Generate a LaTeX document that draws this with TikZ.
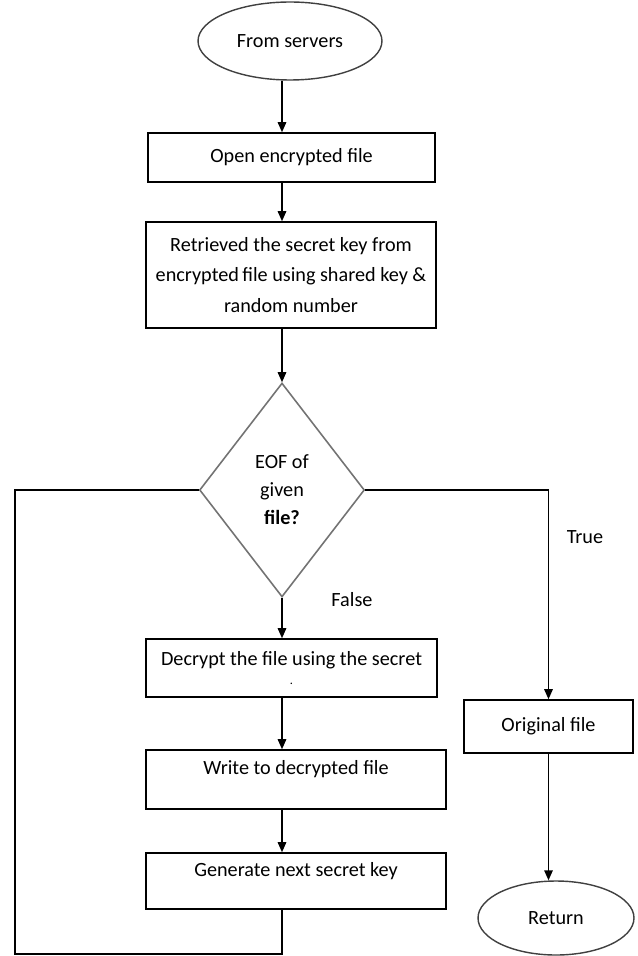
\documentclass[tikz,border=0pt]{standalone}
\usepackage{fontspec}
\setmainfont{Carlito}
\usepackage{tikz}
\usetikzlibrary{shapes.geometric, arrows.meta, positioning, calc}

\begin{document}
\begin{tikzpicture}[
    x=0.02cm, y=-0.02cm,
    box/.style={rectangle, draw, line width=0.9pt, align=center, inner sep=2pt, font=\fontsize{11.5}{17.5}\selectfont},
    term/.style={ellipse, draw=black!75, line width=0.8pt, inner sep=0pt, font=\fontsize{11.5}{17.5}\selectfont},
    decision/.style={diamond, draw=black!55, line width=0.9pt, inner sep=0pt, align=center, font=\fontsize{11.5}{16}\selectfont},
    lbl/.style={font=\fontsize{11.5}{13}\selectfont},
    arr/.style={-{Triangle[length=2mm, width=1.7mm]}, line width=0.8pt},
    line/.style={line width=0.8pt},
]
\useasboundingbox (0,0) rectangle (637,956);
\node[term, minimum width=3.68cm, minimum height=1.56cm] (start) at (290,41) {From servers};
\node[box, minimum width=5.74cm, minimum height=0.98cm] (open) at (291.5,157.5) {Open encrypted file};
\node[box, minimum width=5.8cm, minimum height=2.12cm] (retrieve) at (291,275) {Retrieved the secret key from\\encrypted\,file using shared key \&\\random number};
\node[decision, minimum width=3.3cm, minimum height=4.28cm] (dia) at (282,490) {EOF of\\given\\\textbf{file?}};
\node[box, minimum width=5.82cm, minimum height=1.16cm] (decrypt) at (291.5,668) {Decrypt the file using the secret\\[-7pt]{\scriptsize .}};
\node[box, minimum width=6cm, minimum height=1.18cm, text depth=0.5cm] (write) at (296,779.5) {Write to decrypted file};
\node[box, minimum width=6cm, minimum height=1.12cm, text depth=0.45cm] (generate) at (296,881) {Generate next secret key};
\node[box, minimum width=3.38cm, minimum height=1.06cm] (orig) at (548.5,726.5) {Original file};
\node[term, minimum width=3.12cm, minimum height=1.48cm] (ret) at (556,918) {Return};
\node[lbl] (true) at (585,537) {True};
\node[lbl] (false) at (352,600) {False};
\coordinate (lb) at (15,954);

\draw[arr] (start.south -| dia) -- (open.north -| dia);
\draw[arr] (open.south -| dia) -- (retrieve.north -| dia);
\draw[arr] (retrieve.south -| dia) -- (dia.north);
\draw[arr] (dia.south) -- (decrypt.north -| dia);
\draw[arr] (decrypt.south -| dia) -- (write.north -| dia);
\draw[arr] (write.south -| dia) -- (generate.north -| dia);
\draw[line] (generate.south -| dia) |- (lb) |- (dia.west);
\draw[arr] (dia.east) -| (orig.north);
\draw[arr] (orig.south) -- (orig.south |- ret.north);
\end{tikzpicture}
\end{document}
